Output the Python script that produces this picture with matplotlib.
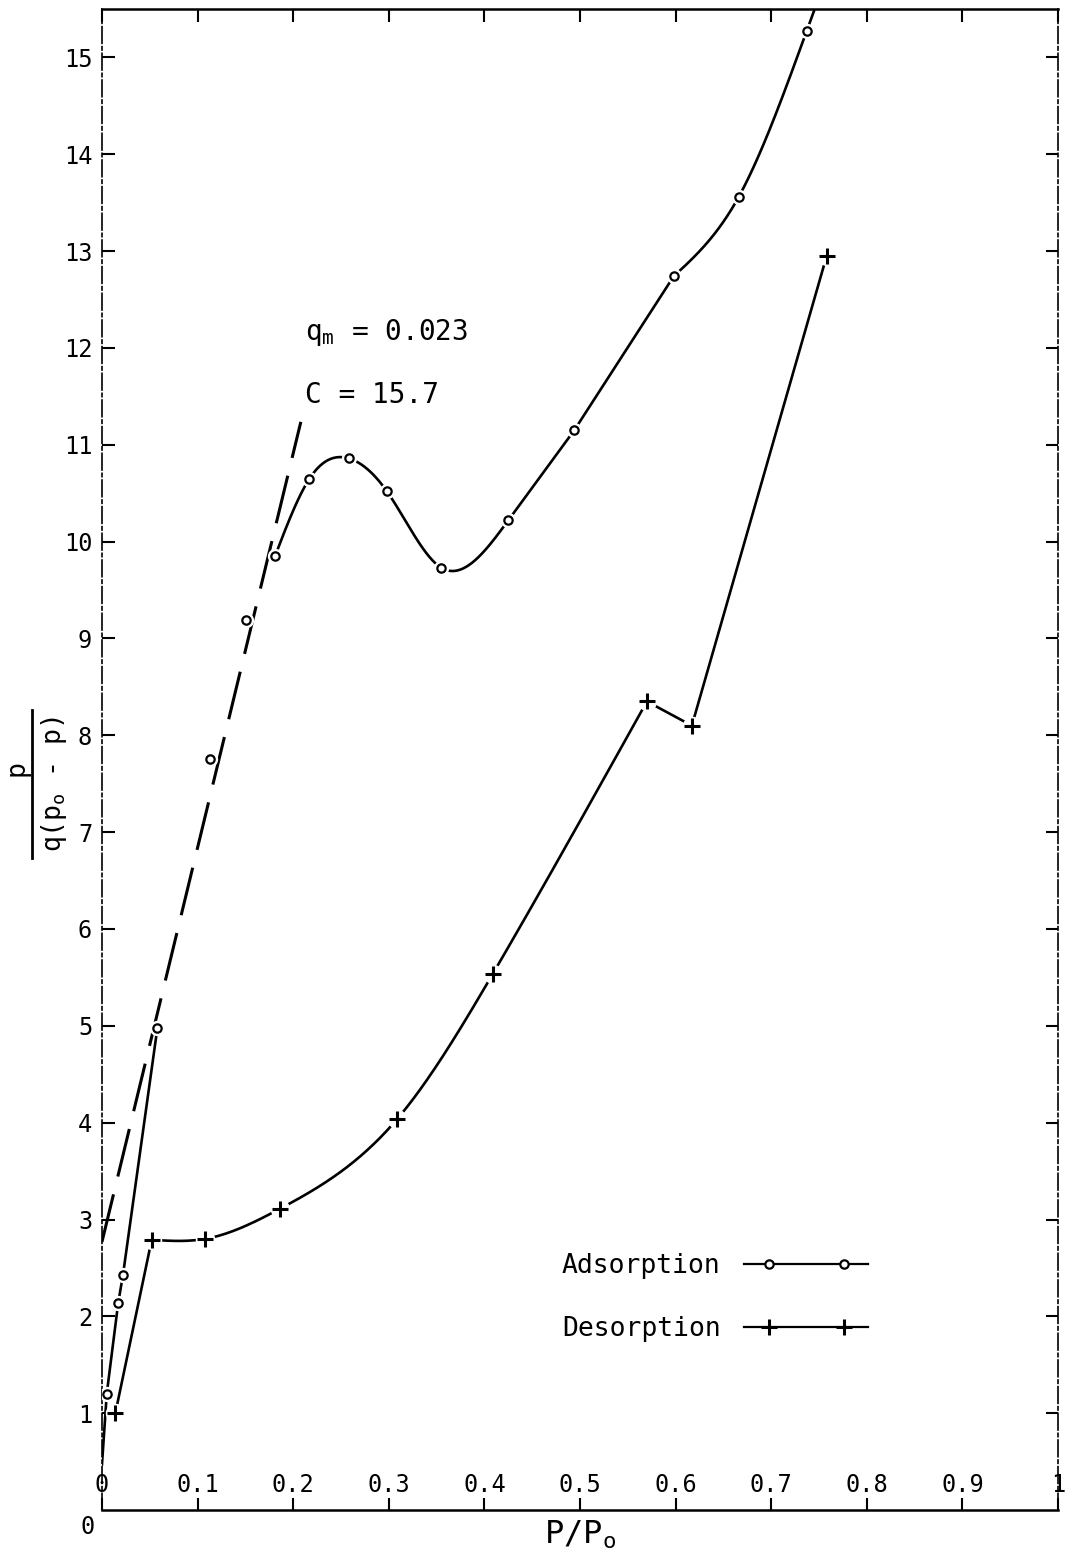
import numpy as np
import matplotlib
matplotlib.use('Agg')
import matplotlib.pyplot as plt
from matplotlib.lines import Line2D
from matplotlib.legend_handler import HandlerLine2DCompound

plt.rcParams['font.family'] = 'DejaVu Sans Mono'
plt.rcParams['mathtext.fontset'] = 'custom'
plt.rcParams['mathtext.rm'] = 'DejaVu Sans Mono'
plt.rcParams['mathtext.it'] = 'DejaVu Sans Mono'
plt.rcParams['mathtext.bf'] = 'DejaVu Sans Mono:bold'

# Adsorption branch (P/Po, p/q(po-p))
ads_x = [0.005, 0.017, 0.022, 0.058, 0.113, 0.151, 0.181, 0.217, 0.258,
         0.298, 0.355, 0.425, 0.494, 0.598, 0.666, 0.737]
ads_y = [1.20, 2.14, 2.43, 4.98, 7.76, 9.19, 9.85, 10.65, 10.86,
         10.52, 9.73, 10.22, 11.15, 12.74, 13.56, 15.27]
ads_start = (0.0, 0.47)

# Desorption branch
des_x = [0.014, 0.052, 0.108, 0.186, 0.309, 0.409, 0.570, 0.617, 0.758]
des_y = [1.00, 2.79, 2.80, 3.11, 4.04, 5.54, 8.35, 8.10, 12.95]

# BET constants
q_m = 0.023
C = 15.7

x_ticks = [0, 0.1, 0.2, 0.3, 0.4, 0.5, 0.6, 0.7, 0.8, 0.9, 1]
x_ticklabels = ['0', '0.1', '0.2', '0.3', '0.4', '0.5', '0.6', '0.7', '0.8', '0.9', '1']
y_ticks = list(range(1, 16))


def natural_spline(x, y, x_end=None, n=300):
    x = np.asarray(x, float)
    y = np.asarray(y, float)
    k = len(x)
    h = np.diff(x)
    A = np.zeros((k, k))
    r = np.zeros(k)
    A[0, 0] = A[-1, -1] = 1
    for i in range(1, k - 1):
        A[i, i - 1] = h[i - 1]
        A[i, i] = 2 * (h[i - 1] + h[i])
        A[i, i + 1] = h[i]
        r[i] = 3 * ((y[i + 1] - y[i]) / h[i] - (y[i] - y[i - 1]) / h[i - 1])
    c = np.linalg.solve(A, r)
    b = (y[1:] - y[:-1]) / h - h * (2 * c[:-1] + c[1:]) / 3
    d = (c[1:] - c[:-1]) / (3 * h)
    xs = np.linspace(x[0], x[-1] if x_end is None else x_end, n)
    idx = np.clip(np.searchsorted(x, xs) - 1, 0, k - 2)
    t = xs - x[idx]
    return xs, y[idx] + b[idx] * t + c[idx] * t ** 2 + d[idx] * t ** 3


class InsetMarkers(HandlerLine2DCompound):
    # full-width legend line with the two markers set in from the ends
    def get_xdata(self, legend, xdescent, ydescent, width, height, fontsize):
        xline = np.array([-xdescent, -xdescent + width])
        xmark = np.array([-xdescent + 0.2 * width, -xdescent + 0.8 * width])
        return xline, xmark


fig = plt.figure(figsize=(10.7, 15.58), dpi=100)
ax = fig.add_axes([0.0953, 0.0308, 0.8935, 0.9634])

lw = 1.9
ink = 'black'

# BET straight line from q_m and C
bet_x = np.array([0.0, 0.208])
bet_y = 1 / (q_m * C) + (C - 1) / (q_m * C) * bet_x
ax.plot(bet_x, bet_y, color=ink, lw=2.2, ls=(0, (16, 6)), zorder=2)

# adsorption: straight run near the origin, smooth hump and dip, then the upper rise
ax.plot([ads_start[0]] + ads_x[:4], [ads_start[1]] + ads_y[:4], color=ink, lw=lw, zorder=2)
sx, sy = natural_spline(ads_x[6:13], ads_y[6:13])
ax.plot(sx, sy, color=ink, lw=lw, zorder=2)
ax.plot(ads_x[12:14], ads_y[12:14], color=ink, lw=lw, zorder=2)
sx, sy = natural_spline(ads_x[13:], ads_y[13:], x_end=0.75)
ax.plot(sx, sy, color=ink, lw=lw, zorder=2)
ax.plot(ads_x, ads_y, ls='none', marker='o', ms=10, mfc='white', mec='white', zorder=3)
ax.plot(ads_x, ads_y, ls='none', marker='o', ms=6, mfc='white', mec=ink, mew=1.6, zorder=4)

# desorption
ax.plot(des_x[:2], des_y[:2], color=ink, lw=lw, zorder=2)
dx, dy = natural_spline(des_x[1:7], des_y[1:7])
ax.plot(dx, dy, color=ink, lw=lw, zorder=2)
ax.plot(des_x[6:], des_y[6:], color=ink, lw=lw, zorder=2)
ax.plot(des_x, des_y, ls='none', marker='o', ms=13, mfc='white', mec='white', zorder=3)
ax.plot(des_x, des_y, ls='none', marker='+', ms=12, mew=2.2, color=ink, zorder=4)

# legend-only handles
h_ads, = ax.plot([], [], color=ink, lw=1.6, marker='o', ms=6, mfc='white', mec=ink, mew=1.6)
h_des, = ax.plot([], [], color=ink, lw=1.6, marker='+', ms=12, mew=2.2)
ax.legend([h_ads, h_des], ['Adsorption', 'Desorption'], numpoints=2,
          handler_map={h_ads: InsetMarkers(), h_des: InsetMarkers()},
          frameon=False, markerfirst=False, fontsize=19, handlelength=4.7,
          handletextpad=0.9, labelspacing=1.4, borderpad=0, borderaxespad=0,
          loc='upper left', bbox_to_anchor=(0.481, 0.171))

ax.text(0.212, 12.16, r'q$_m$ = 0.023', fontsize=20, va='center', ha='left')
ax.text(0.212, 11.51, 'C = 15.7', fontsize=20, va='center', ha='left')

ax.set_xlim(0, 1)
ax.set_ylim(0, 15.5)
ax.set_xticks(x_ticks)
ax.set_xticklabels(x_ticklabels)
ax.set_yticks(y_ticks)
ax.tick_params(axis='both', direction='in', top=True, right=True,
               length=9, width=1.5, colors=ink, labelsize=17)
ax.tick_params(axis='x', pad=-27)
ax.tick_params(axis='y', pad=7)

ax.annotate('0', xy=(0, 0), xycoords='axes fraction', xytext=(-10, -12),
            textcoords='offset points', ha='center', va='center', fontsize=17)

ax.set_xlabel(r'P/P$_o$', fontsize=23, labelpad=6)

# y label drawn as a stacked fraction: p over q(po - p)
W, H = 1070, 1558
fig.text(16 / W, 1 - 768 / H, 'p', fontsize=19, rotation=90, ha='center', va='center')
fig.add_artist(Line2D([32 / W, 32 / W], [1 - 710 / H, 1 - 858 / H],
                      transform=fig.transFigure, color=ink, lw=2))
fig.text(54 / W, 1 - 784 / H, r'q(p$_o$ - p)', fontsize=19, rotation=90,
         ha='center', va='center')

for side in ['top', 'bottom']:
    ax.spines[side].set_linewidth(1.8)
for side in ['left', 'right']:
    ax.spines[side].set_linewidth(1.2)
    ax.spines[side].set_linestyle((0, (10, 2, 2, 2)))

plt.savefig('out.png', dpi=100, facecolor='white')
